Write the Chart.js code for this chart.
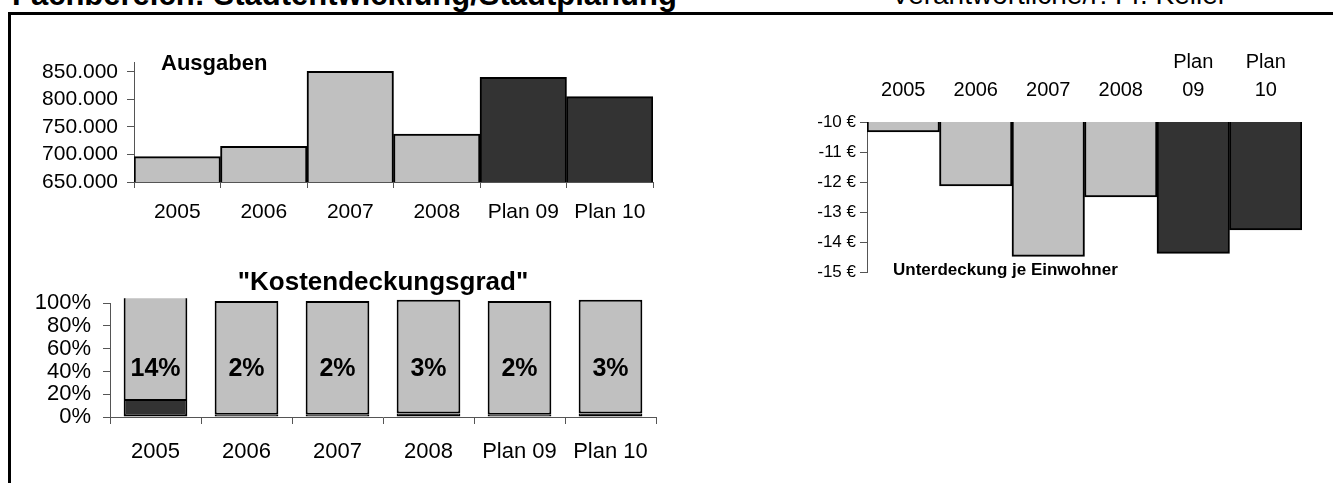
<!DOCTYPE html>
<html>
<head>
<meta charset="utf-8">
<script src="https://cdn.jsdelivr.net/npm/chart.js@4/dist/chart.umd.min.js"></script>
<style>
  body { margin: 0; width: 1333px; height: 483px; overflow: hidden; background: #fff; position: relative;
         font-family: "Liberation Sans", Arial, sans-serif; color: #000; }
  .line { position: absolute; background: #000; }
  .txt { position: absolute; white-space: nowrap; }
  canvas { position: absolute; }
</style>
</head>
<body>
<div class="txt" style="left:12px;top:-21px;font-size:31px;line-height:31px;font-weight:bold;">Fachbereich: Stadtentwicklung/Stadtplanung</div>
<div class="txt" style="left:891px;top:-19px;font-size:28px;line-height:28px;">Verantwortliche/r: Fr. Keller</div>
<div class="line" style="left:8px;top:12px;width:1325px;height:3px;"></div>
<div class="line" style="left:8px;top:12px;width:3px;height:471px;"></div>

<canvas id="ausgabenChart" width="650" height="200" style="left:20px;top:40px;"></canvas>
<canvas id="unterdeckungChart" width="540" height="250" style="left:780px;top:40px;"></canvas>
<canvas id="deckungChart" width="650" height="218" style="left:20px;top:262px;"></canvas>

<div class="txt" style="left:161px;top:52px;font-size:22px;line-height:22px;font-weight:bold;">Ausgaben</div>
<div class="txt" style="left:893px;top:261px;font-size:17px;line-height:17px;font-weight:bold;">Unterdeckung je Einwohner</div>

<script>
// ======== DATA ========
const years = ["2005", "2006", "2007", "2008", "Plan 09", "Plan 10"];
const ausgaben = [696000, 715000, 851000, 737000, 840000, 805000];
const unterdeckung = [-10.33, -12.13, -14.48, -12.5, -14.38, -13.6];
const deckungsgrad = [14, 2, 2, 3, 2, 3];
const ausgabenAnteil = [100, 100, 100, 100, 100, 100];

const ausgabenTicks = [650000, 700000, 750000, 800000, 850000];
const unterdeckungTicks = [-15, -14, -13, -12, -11, -10];
const deckungTicks = [0, 20, 40, 60, 80, 100];

// ======== STYLE ========
const LIGHT = "#c0c0c0";
const DARK = "#333333";
const AXIS = "#555555";
const FONT = "'Liberation Sans', Arial, sans-serif";
const barColors = years.map((y) => (y.startsWith("Plan") ? DARK : LIGHT));

Chart.defaults.font.family = FONT;
Chart.defaults.color = "#000";
Chart.defaults.animation = false;

const dePoints = (v) => String(v).replace(/\B(?=(\d{3})+(?!\d))/g, ".");
const fixedTicks = (list) => (s) => { s.ticks = list.map((v) => ({ value: v })); };

// ======== AUSGABEN ========
new Chart(document.getElementById("ausgabenChart"), {
    type: "bar",
    data: {
        labels: years,
        datasets: [
            {
                data: ausgaben,
                backgroundColor: barColors,
                borderColor: "#000",
                borderWidth: 2,
                borderSkipped: false,
                barPercentage: 1,
                categoryPercentage: 1,
            },
        ],
    },
    options: {
        responsive: false,
        layout: { padding: { top: 22, right: 17, left: 0, bottom: 0 } },
        plugins: { legend: { display: false }, tooltip: { enabled: false } },
        scales: {
            x: {
                grid: { offset: true, drawOnChartArea: false, tickLength: 6, color: AXIS },
                border: { color: AXIS },
                ticks: { font: { size: 21 }, padding: 12, maxRotation: 0 },
                afterFit: (s) => { s.height = 58; },
            },
            y: {
                min: 650000,
                max: 868000,
                afterBuildTicks: fixedTicks(ausgabenTicks),
                ticks: { autoSkip: false, font: { size: 21 }, padding: 9, callback: (v) => dePoints(v) },
                grid: { drawOnChartArea: false, tickLength: 7, color: AXIS },
                border: { color: AXIS },
                afterFit: (s) => { s.width = 114; },
            },
        },
    },
});

// ======== UNTERDECKUNG JE EINWOHNER ========
new Chart(document.getElementById("unterdeckungChart"), {
    type: "bar",
    data: {
        labels: years,
        datasets: [
            {
                data: unterdeckung,
                backgroundColor: barColors,
                borderColor: "#000",
                borderWidth: 2,
                borderSkipped: false,
                barPercentage: 1,
                categoryPercentage: 1,
            },
        ],
    },
    options: {
        responsive: false,
        layout: { padding: { top: 0, right: 18, left: 0, bottom: 18 } },
        plugins: { legend: { display: false }, tooltip: { enabled: false } },
        scales: {
            x: {
                position: "top",
                grid: { display: false, drawTicks: false, tickLength: 0 },
                border: { display: false },
                ticks: {
                    font: { size: 20, lineHeight: 1.4 },
                    padding: 18,
                    maxRotation: 0,
                    callback: function (v) {
                        const l = this.getLabelForValue(v);
                        return l.includes(" ") ? l.split(" ") : l;
                    },
                },
                afterFit: (s) => { s.height = 82; },
            },
            y: {
                min: -15,
                max: -10,
                afterBuildTicks: fixedTicks(unterdeckungTicks),
                ticks: { autoSkip: false, font: { size: 17 }, padding: 4, callback: (v) => v + " €" },
                grid: { drawOnChartArea: false, tickLength: 7, color: AXIS },
                border: { color: AXIS },
                afterFit: (s) => { s.width = 87; },
            },
        },
    },
});

// ======== KOSTENDECKUNGSGRAD ========
const labelLevel = 42;
const pctLabels = {
    id: "pctLabels",
    afterDatasetsDraw(chart) {
        const ctx = chart.ctx;
        const meta = chart.getDatasetMeta(0);
        const y = chart.scales.y.getPixelForValue(labelLevel);
        ctx.save();
        ctx.font = "bold 25px " + FONT;
        ctx.fillStyle = "#000";
        ctx.textAlign = "center";
        ctx.textBaseline = "middle";
        meta.data.forEach((bar, i) => {
            ctx.fillText(deckungsgrad[i] + "%", bar.x, y);
        });
        ctx.restore();
    },
};

new Chart(document.getElementById("deckungChart"), {
    type: "bar",
    data: {
        labels: years,
        datasets: [
            {
                label: "Deckung",
                data: deckungsgrad,
                backgroundColor: DARK,
                borderWidth: { top: 0, left: 2, right: 2, bottom: 2 },
            },
            {
                label: "Ausgaben",
                data: ausgabenAnteil,
                backgroundColor: LIGHT,
            },
        ],
    },
    options: {
        responsive: false,
        datasets: {
            bar: {
                borderColor: "#000",
                borderWidth: 2,
                borderSkipped: false,
                barPercentage: 0.7,
                categoryPercentage: 1,
                clip: { left: 5, top: 5, right: 5, bottom: 5 },
            },
        },
        layout: { padding: { top: 0, right: 14, left: 0, bottom: 0 } },
        plugins: {
            legend: { display: false },
            tooltip: { enabled: false },
            title: {
                display: true,
                text: '"Kostendeckungsgrad"',
                fullSize: false,
                font: { size: 26, weight: "bold" },
                color: "#000",
                padding: { top: 5, bottom: 5 },
            },
        },
        scales: {
            x: {
                stacked: true,
                grid: { offset: true, drawOnChartArea: false, tickLength: 7, color: AXIS },
                border: { color: AXIS },
                ticks: { font: { size: 22 }, padding: 15, maxRotation: 0 },
                afterFit: (s) => { s.height = 63; },
            },
            y: {
                stacked: true,
                min: 0,
                max: 100,
                afterBuildTicks: fixedTicks(deckungTicks),
                ticks: { autoSkip: false, font: { size: 22, lineHeight: 1 }, padding: 12, callback: (v) => v + "%" },
                grid: { drawOnChartArea: false, tickLength: 7, color: AXIS },
                border: { color: AXIS },
                afterFit: (s) => { s.width = 90; },
            },
        },
    },
    plugins: [pctLabels],
});
</script>
</body>
</html>
